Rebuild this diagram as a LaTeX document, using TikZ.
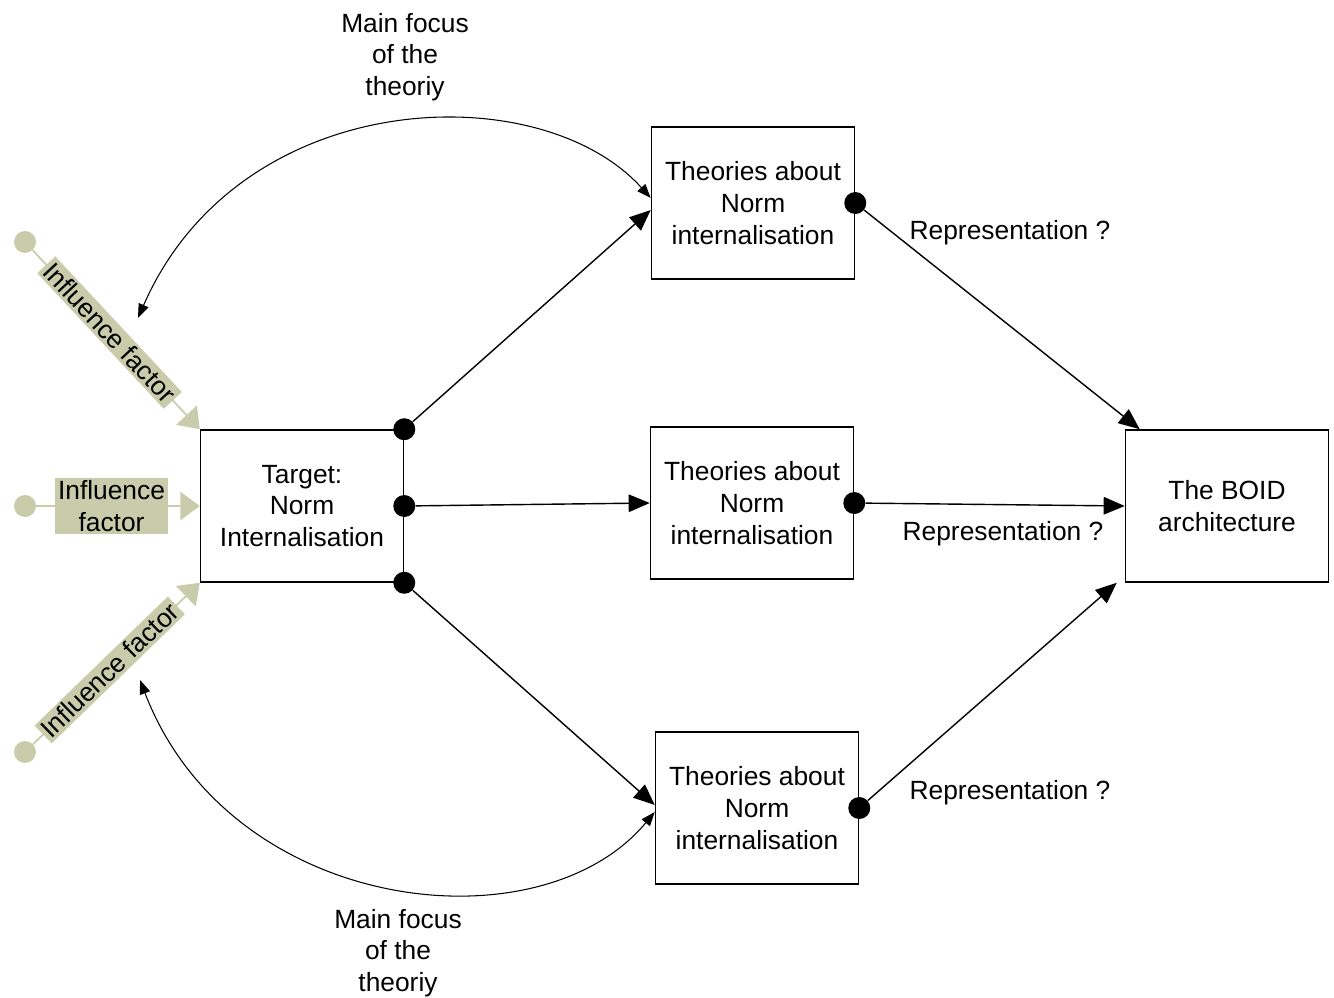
\documentclass[tikz,border=0pt]{standalone}
\usepackage{fontspec}
\setmainfont{Liberation Sans}
\usetikzlibrary{arrows.meta}

\definecolor{inflgreen}{RGB}{200,204,170}

\begin{document}
\begin{tikzpicture}[
  x=0.02cm, y=-0.02cm,
  font=\fontsize{15}{18}\selectfont,
  theory/.style={draw, line width=0.9pt, minimum width=4.06cm, minimum height=3.04cm, align=center, inner sep=0pt},
  dot/.style={circle, fill=black, minimum size=0.44cm, inner sep=0pt},
  flow/.style={line width=0.8pt, -{Triangle[length=12pt,width=10pt]}},
  focus/.style={line width=0.6pt, {Triangle[length=8pt,width=6pt]}-{Triangle[length=8pt,width=6pt]}},
  txt/.style={align=center, inner sep=0pt},
  infdot/.style={circle, fill=inflgreen, minimum size=0.44cm, inner sep=0pt},
  infline/.style={draw=inflgreen, line width=1pt, -{Triangle[length=11pt,width=16pt]}},
  infbox/.style={fill=inflgreen, inner sep=1.5pt, align=center},
]
\useasboundingbox (0,0) rectangle (1334,997);

% boxes
\node[theory] (target) at (302,506) {Target:\\Norm\\Internalisation};
\node[theory] (th1) at (753,203) {Theories about\\Norm\\internalisation};
\node[theory] (th2) at (752,503) {Theories about\\Norm\\internalisation};
\node[theory] (th3) at (757,808) {Theories about\\Norm\\internalisation};
\node[theory] (boid) at (1227,506) {The BOID\\architecture};

% dots
\node[dot] (d1) at (target.north east) {};
\node[dot] (d2) at (target.east) {};
\node[dot] (d3) at (target.south east) {};
\node[dot] (e1) at (th1.east) {};
\node[dot] (e2) at (th2.east) {};
\node[dot] (e3) at (th3.east) {};

\draw[flow] (d1) -- ([yshift=-0.14cm]th1.west);
\draw[flow] (d2) -- (th2.west);
\draw[flow] (d3) -- ([yshift=0.06cm]th3.west);
\draw[flow] (e1) -- ([xshift=0.3cm]boid.north west);
\draw[flow] (e2) -- (boid.west);
\draw[flow] (e3) -- ([xshift=-0.16cm]boid.south west);

\node[txt] (rep1) at (1010,233) {Representation ?};
\node[txt] (rep2) at (1003,534) {Representation ?};
\node[txt] (rep3) at (1010,793) {Representation ?};

% main focus
\coordinate (f1) at (138,318);
\coordinate (f2) at (140,680);
\draw[focus] (f1) .. controls (240,85) and (540,75) .. ([yshift=0.1cm]th1.west);
\draw[focus] (f2) .. controls (230,915) and (540,950) .. ([yshift=-0.08cm]th3.west);
\node[txt] (focus1) at (405,57) {Main focus\\of the\\theoriy};
\node[txt] (focus2) at (398,953) {Main focus\\of the\\theoriy};

% influence factors
\node[infdot] (if1) at (25,242) {};
\node[infdot] (if2) at (25,506) {};
\node[infdot] (if3) at (25,752) {};
\draw[infline] (if1) -- (target.north west) node[pos=0.46, sloped, infbox] {Influence factor};
\draw[infline] (if2) -- (target.west) node[pos=0.46, infbox] {Influence\\factor};
\draw[infline] (if3) -- (target.south west) node[pos=0.46, sloped, infbox] {Influence factor};

\end{tikzpicture}
\end{document}
